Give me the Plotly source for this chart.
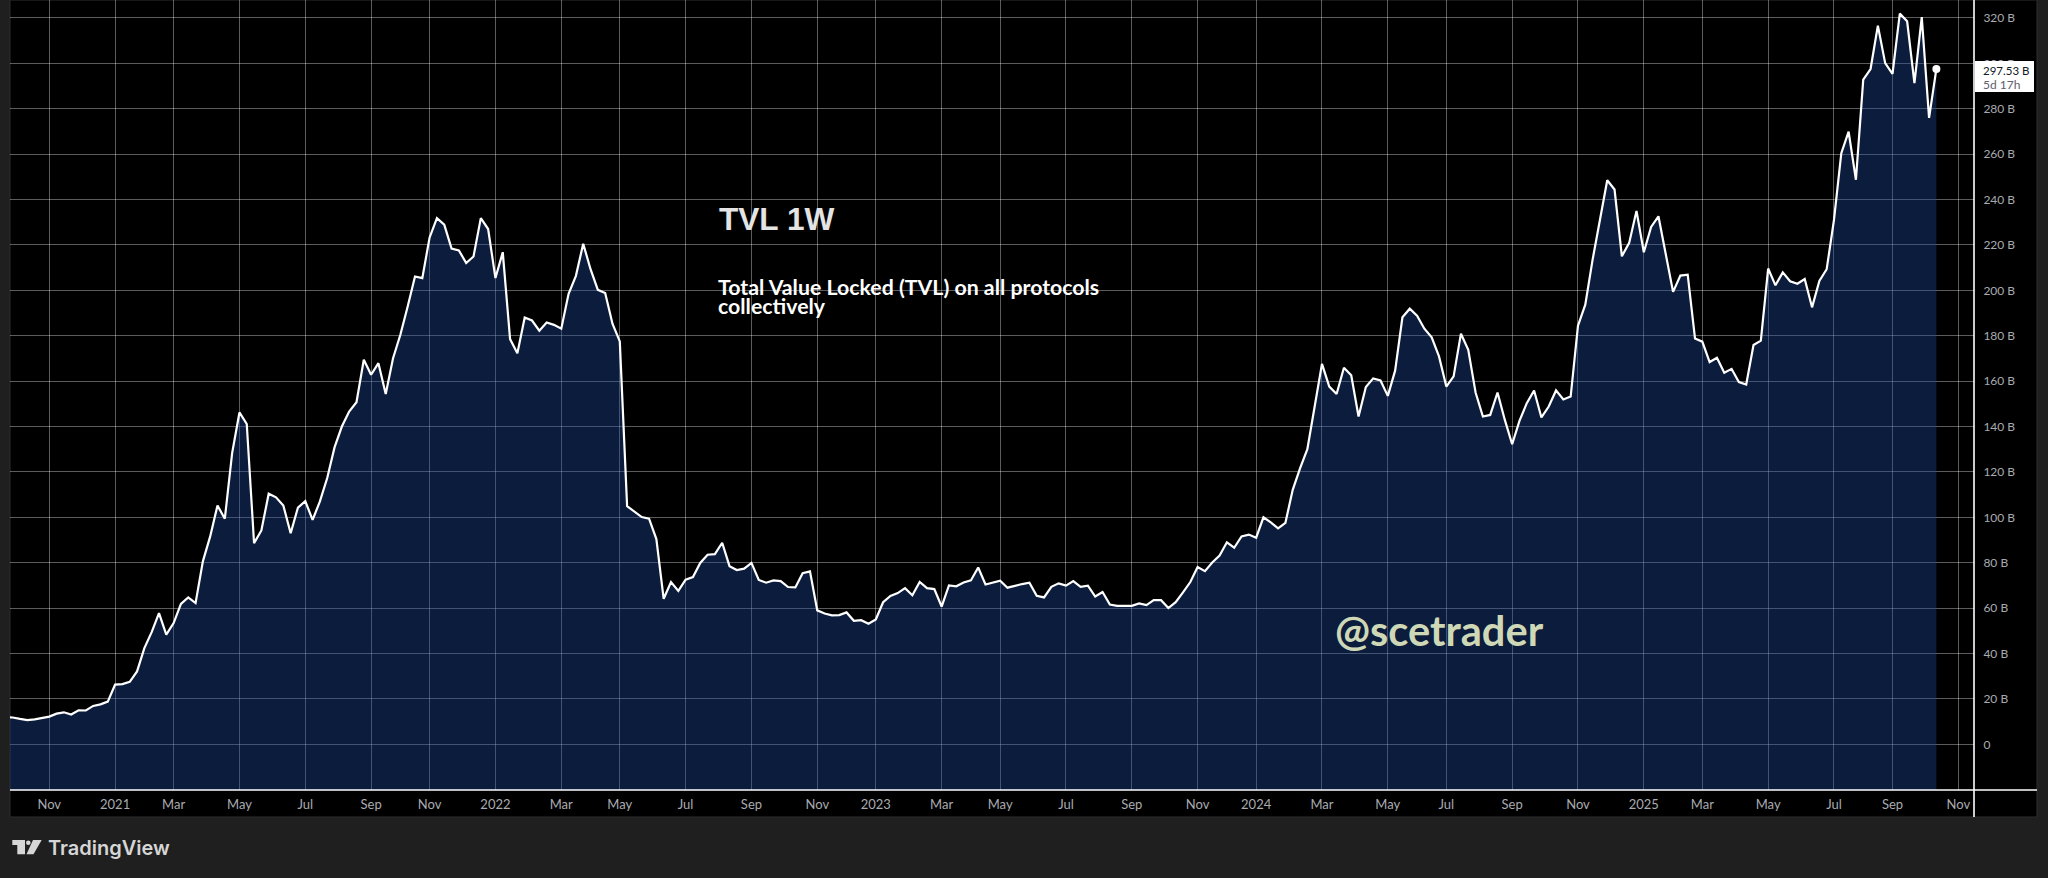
import pandas as pd
import plotly.graph_objects as go

# Total value locked, billions USD, one value per weekly bar
tvl_billions = [
    12.0, 11.8, 11.2, 10.7, 11.0, 11.6, 12.2, 13.5, 14.1, 13.1, 15.0, 14.9, 16.9, 17.6, 18.8,
    26.3, 26.5, 27.5, 32.1, 42.4, 49.4, 57.8, 48.3, 53.4, 61.9, 64.7, 62.2, 80.6, 91.6, 105.2,
    99.4, 128.3, 146.2, 141.1, 88.6, 94.2, 110.4, 108.8, 105.2, 93.0, 104.3, 107.1, 98.9, 107.0,
    117.3, 130.8, 140.0, 146.6, 150.7, 169.4, 162.8, 167.9, 154.3, 170.1, 180.4, 192.9, 206.1,
    205.4, 223.3, 231.8, 228.9, 218.4, 217.6, 212.0, 214.9, 231.8, 227.0, 205.4, 216.8, 178.5,
    172.3, 188.0, 186.7, 182.2, 185.8, 184.8, 183.1, 198.5, 206.4, 220.5, 209.3, 200.2, 198.8,
    185.3, 177.5, 104.9, 102.6, 100.1, 99.4, 90.4, 64.1, 71.5, 67.6,
    72.5, 73.7, 79.9, 83.5, 83.8, 88.8, 78.5, 76.8, 77.4, 79.9, 72.4, 71.2, 72.2, 71.9, 69.3,
    69.1, 75.4, 76.2, 59.0, 57.6, 56.8, 56.9, 58.1, 54.4, 54.7, 53.1, 55.0, 62.6, 65.4, 66.6,
    68.8, 65.7, 71.5, 68.8, 68.4, 60.7, 70.0, 69.6, 71.3, 72.2, 77.9, 70.4, 71.2, 72.1, 69.0,
    69.9, 70.6, 71.2, 65.4, 64.7, 69.4, 70.9, 69.9, 71.9, 69.4, 69.9, 65.1, 67.1, 61.6, 61.0,
    61.0, 61.0, 62.1, 61.3, 63.5, 63.5, 60.0, 62.6, 66.9, 71.5, 78.1, 76.3, 80.1, 83.2, 89.0,
    86.6, 91.6, 92.4, 91.0, 100.0, 97.8, 95.1, 97.6,
    112.1, 121.6, 130.0, 148.8, 167.6, 157.6, 154.3, 165.9, 162.6, 144.4, 157.4, 161.2, 160.3,
    153.5, 164.6, 188.1, 191.9, 188.8, 183.1, 179.3, 170.9, 157.6, 162.1, 180.9, 173.8, 155.0,
    144.4, 145.1, 155.0, 142.9, 132.2, 142.5, 150.3, 155.9, 144.0, 148.8, 155.9, 151.9, 153.2,
    184.4, 193.7, 213.5, 230.4, 248.5, 244.4, 215.0, 220.9, 235.0, 216.8, 227.9, 232.6, 215.7,
    199.3, 206.5, 206.9, 178.8, 177.4, 168.4, 170.3, 163.7, 165.4, 159.6, 158.5,
    175.9, 177.8, 209.6, 202.2, 207.9, 204.0, 202.9, 205.0, 192.5, 204.1, 209.3, 231.0, 260.4,
    269.9, 248.7, 292.8, 297.5, 316.6, 300.1, 295.4, 321.9, 318.5, 291.3, 320.4, 276.0, 297.53,
]
week_dates = pd.date_range("2020-09-21", periods=len(tvl_billions), freq="W-MON")

# Time axis labels sit on the first weekly bar of each month
x_tick_dates = [
    "2020-11-02", "2021-01-04", "2021-03-01", "2021-05-03", "2021-07-05", "2021-09-06",
    "2021-11-01", "2022-01-03", "2022-03-07", "2022-05-02", "2022-07-04", "2022-09-05",
    "2022-11-07", "2023-01-02", "2023-03-06", "2023-05-01", "2023-07-03", "2023-09-04",
    "2023-11-06", "2024-01-01", "2024-03-04", "2024-05-06", "2024-07-01", "2024-09-02",
    "2024-11-04", "2025-01-06", "2025-03-03", "2025-05-05", "2025-07-07", "2025-09-01",
    "2025-11-03",
]
x_tick_labels = [
    "Nov", "2021", "Mar", "May", "Jul", "Sep", "Nov", "2022", "Mar", "May", "Jul", "Sep",
    "Nov", "2023", "Mar", "May", "Jul", "Sep", "Nov", "2024", "Mar", "May", "Jul", "Sep",
    "Nov", "2025", "Mar", "May", "Jul", "Sep", "Nov",
]
y_tick_values = list(range(0, 321, 20))
y_tick_labels = ["0"] + [f"{v} B" for v in y_tick_values[1:]]

# Plot window in page pixels
LEFT, RIGHT, BOTTOM = 10, 1974, 790
Y_FLOOR, Y_CEIL = -20.13, 327.9
FONT = "Lato"
GRID = "rgba(255,255,255,0.36)"


def px(x):
    return (x - LEFT) / (RIGHT - LEFT)


def py(y):
    return (BOTTOM - y) / BOTTOM


def label(text, x, y, size, color, family=FONT, weight="normal", xanchor="left"):
    fig.add_annotation(text=text, x=px(x), y=py(y), xref="paper", yref="paper",
                       xanchor=xanchor, yanchor="middle", showarrow=False, align="left",
                       font=dict(family=family, size=size, color=color, weight=weight))


def box(x0, y0, x1, y1, layer="above", fill="white", line=None):
    fig.add_shape(type="rect", xref="paper", yref="paper", layer=layer,
                  x0=px(x0), x1=px(x1), y0=py(y0), y1=py(y1), fillcolor=fill,
                  line=dict(width=1 if line else 0, color=line or "rgba(0,0,0,0)"))


fig = go.Figure()

# Area runs down to the bottom of the pane, below the zero line
fig.add_trace(go.Scatter(x=week_dates, y=[Y_FLOOR] * len(week_dates), mode="lines",
                         line=dict(width=0), hoverinfo="skip", showlegend=False))
fig.add_trace(go.Scatter(x=week_dates, y=tvl_billions, mode="lines", fill="tonexty",
                         fillcolor="rgba(30,70,150,0.40)", line=dict(color="white", width=2.2),
                         showlegend=False))
fig.add_trace(go.Scatter(x=week_dates[-1:], y=tvl_billions[-1:], mode="markers",
                         marker=dict(color="white", size=8), showlegend=False))

fig.update_layout(
    width=2048, height=878, margin=dict(l=LEFT, r=2048 - RIGHT, t=0, b=878 - BOTTOM),
    paper_bgcolor="#1f1f1f", plot_bgcolor="black", font=dict(family=FONT, color="#a9abb0"),
    showlegend=False,
    xaxis=dict(type="date", range=["2020-09-25 10:00", "2025-11-18"], tickmode="array",
               tickvals=x_tick_dates, ticktext=x_tick_labels, tickfont=dict(size=13),
               showgrid=True, gridcolor=GRID, gridwidth=1,
               zeroline=False, showline=False, ticks="outside", ticklen=2,
               tickcolor="rgba(0,0,0,0)"),
    yaxis=dict(side="right", range=[Y_FLOOR, Y_CEIL], tickmode="array",
               tickvals=y_tick_values, ticktext=y_tick_labels, tickfont=dict(size=12),
               showgrid=True, gridcolor=GRID, gridwidth=1,
               zeroline=False, showline=False, ticks="outside", ticklen=6,
               tickcolor="rgba(0,0,0,0)"),
)

# Black pane behind the axis strips, then the white axis rules
box(LEFT, 0, 2037, 817, layer="below", fill="black", line="#2e2e2e")
box(LEFT, 789.2, 2037, 790.8)
box(1973.2, 0, 1974.8, 817)

# Last value tag on the price axis
box(1975, 61, 2034, 92)
label("297.53 B", 1981, 70, 11.5, "#131722")
label("5d 17h", 1981, 84, 12, "#5d606b")

# Text drawn on the chart
label("TVL 1W", 717, 219, 31.6, "#e4e4e4", family="Liberation Sans", weight="bold")
label("Total Value Locked (TVL) on all protocols", 716, 287, 21.3, "white", weight="bold")
label("collectively", 716, 306, 21.3, "white", weight="bold")
label("@scetrader", 1333, 630, 41.6, "#cfd8b6", weight="bold")

# TradingView footer mark
fig.add_shape(type="path", xref="paper", yref="paper", fillcolor="#d6d6d6", line=dict(width=0),
              path=f"M {px(12.3)} {py(840)} L {px(25)} {py(840)} L {px(25)} {py(854.3)} "
                   f"L {px(17.3)} {py(854.3)} L {px(17.3)} {py(845)} L {px(12.3)} {py(845)} Z")
fig.add_shape(type="path", xref="paper", yref="paper", fillcolor="#d6d6d6", line=dict(width=0),
              path=f"M {px(33)} {py(840)} L {px(41.7)} {py(840)} L {px(33.5)} {py(854.3)} "
                   f"L {px(26.5)} {py(854.3)} Z")
fig.add_shape(type="circle", xref="paper", yref="paper", fillcolor="#d6d6d6", line=dict(width=0),
              x0=px(26), x1=px(30.6), y0=py(845), y1=py(840.4))
label("TradingView", 46, 848, 20, "#d6d6d6", family="Inter", weight=600)

fig.write_html("out.html", config=dict(displayModeBar=False),
               post_script="document.body.style.margin='0';")
